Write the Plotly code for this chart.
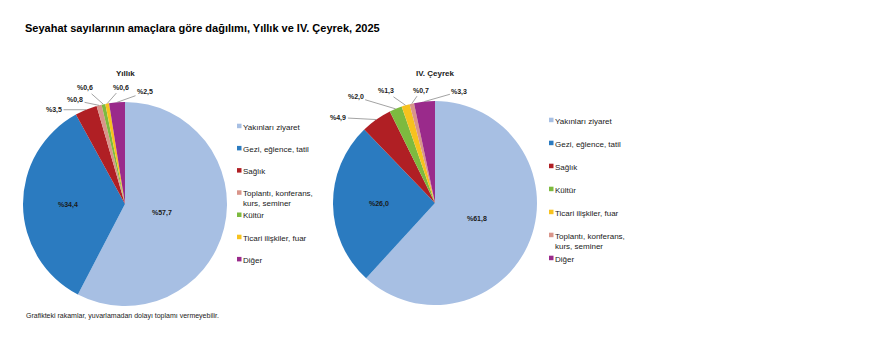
import math
import plotly.graph_objects as go

W, H = 885, 357
# page offset of the figure (default body margin of the html page)
OX, OY = 8, 8

# ---------------- data ----------------
title_text = "Seyahat sayılarının amaçlara göre dağılımı, Yıllık ve IV. Çeyrek, 2025"
footnote_text = "Grafikteki rakamlar, yuvarlamadan dolayı toplamı vermeyebilir."

yillik_title = "Yıllık"
yillik_labels = ["Yakınları ziyaret", "Gezi, eğlence, tatil", "Sağlık",
                 "Toplantı, konferans,<br>kurs, seminer", "Kültür",
                 "Ticari ilişkiler, fuar", "Diğer"]
yillik_values = [57.7, 34.4, 3.5, 0.8, 0.6, 0.6, 2.5]

ceyrek_title = "IV. Çeyrek"
ceyrek_labels = ["Yakınları ziyaret", "Gezi, eğlence, tatil", "Sağlık", "Kültür",
                 "Ticari ilişkiler, fuar", "Toplantı, konferans,<br>kurs, seminer",
                 "Diğer"]
ceyrek_values = [61.8, 26.0, 4.9, 2.0, 1.3, 0.7, 3.3]

# ---------------- styles ----------------
COLORS = {
    "Yakınları ziyaret": "#A7BFE3",
    "Gezi, eğlence, tatil": "#2B7BC0",
    "Sağlık": "#B01F24",
    "Toplantı, konferans,<br>kurs, seminer": "#D9958A",
    "Kültür": "#7DBA3F",
    "Ticari ilişkiler, fuar": "#F7C21E",
    "Diğer": "#9A2A8B",
}
FONT = "Liberation Sans, Arial, sans-serif"
TXT = "#1a1a1a"

pies = [
    dict(title=yillik_title, labels=yillik_labels, values=yillik_values,
         cx=125, cy=204, r=102,
         inside=[0.37, 0.56, None, None, None, None, None],
         offsets=[None, None, (-32, 0), (-24, -5), (-18, -16), (14, -16), (28, -10)],
         legend_x=237, legend_y=126, legend_dy=22.2),
    dict(title=ceyrek_title, labels=ceyrek_labels, values=ceyrek_values,
         cx=435, cy=203, r=102,
         inside=[0.445, 0.55, None, None, None, None, None],
         offsets=[None, None, (-38, -2), (-40, -12), (-20, -14), (9, -13), (35, -10)],
         legend_x=549, legend_y=120, legend_dy=23.0),
]


def px(x):
    return (x - OX) / W


def py(y):
    return 1 - (y - OY) / H


def fmt(v):
    return "%" + f"{v:.1f}".replace(".", ",")


fig = go.Figure()
annotations = []
shapes = []

for p in pies:
    cx, cy, r = p["cx"], p["cy"], p["r"]
    fig.add_trace(go.Pie(
        labels=p["labels"], values=p["values"],
        marker=dict(colors=[COLORS[l] for l in p["labels"]], line=dict(width=0)),
        sort=False, direction="clockwise", rotation=0,
        textinfo="none", hoverinfo="label+value", showlegend=False,
        domain=dict(x=[px(cx - r), px(cx + r)], y=[py(cy + r), py(cy - r)]),
    ))
    annotations.append(dict(x=px(cx), y=py(73), xref="paper", yref="paper",
                            xanchor="center", yanchor="middle",
                            text=f"<b>{p['title']}</b>", showarrow=False,
                            font=dict(family=FONT, size=8, color=TXT)))
    total = sum(p["values"])
    cum = 0.0
    for i, v in enumerate(p["values"]):
        mid = (cum + v / 2) / total * 2 * math.pi
        cum += v
        sx, sy = math.sin(mid), -math.cos(mid)
        if p["inside"][i] is not None:
            f = p["inside"][i]
            annotations.append(dict(x=px(cx + f * r * sx), y=py(cy + f * r * sy),
                                    xref="paper", yref="paper",
                                    xanchor="center", yanchor="middle",
                                    text=f"<b>{fmt(v)}</b>", showarrow=False,
                                    font=dict(family=FONT, size=7, color=TXT)))
        else:
            ax, ay = p["offsets"][i]
            annotations.append(dict(x=px(cx + r * sx), y=py(cy + r * sy),
                                    xref="paper", yref="paper", text=f"<b>{fmt(v)}</b>",
                                    showarrow=True, arrowhead=0, arrowwidth=0.8,
                                    arrowcolor="#8c8c8c", ax=ax, ay=ay, standoff=0,
                                    font=dict(family=FONT, size=7, color=TXT)))
    for i, lab in enumerate(p["labels"]):
        y0 = p["legend_y"] + i * p["legend_dy"]
        x0 = p["legend_x"]
        shapes.append(dict(type="rect", xref="paper", yref="paper",
                           x0=px(x0), x1=px(x0 + 4.5), y0=py(y0 + 2.2), y1=py(y0 - 2.3),
                           fillcolor=COLORS[lab], line=dict(width=0)))
        annotations.append(dict(x=px(x0 + 3.5), y=py(y0 - 5.5), xref="paper", yref="paper",
                                xanchor="left", yanchor="top", align="left",
                                text=lab, showarrow=False,
                                font=dict(family=FONT, size=8, color=TXT)))

annotations.append(dict(x=px(23), y=py(28), xref="paper", yref="paper",
                        xanchor="left", yanchor="middle",
                        text=f"<b>{title_text}</b>", showarrow=False,
                        font=dict(family=FONT, size=11, color="#000000")))
annotations.append(dict(x=px(24), y=py(315.5), xref="paper", yref="paper",
                        xanchor="left", yanchor="middle",
                        text=footnote_text, showarrow=False,
                        font=dict(family=FONT, size=7, color=TXT)))

fig.update_layout(
    width=W, height=H, margin=dict(l=0, r=0, t=0, b=0),
    paper_bgcolor="white", plot_bgcolor="white",
    annotations=annotations, shapes=shapes, showlegend=False,
)

fig.write_html("out.html")
